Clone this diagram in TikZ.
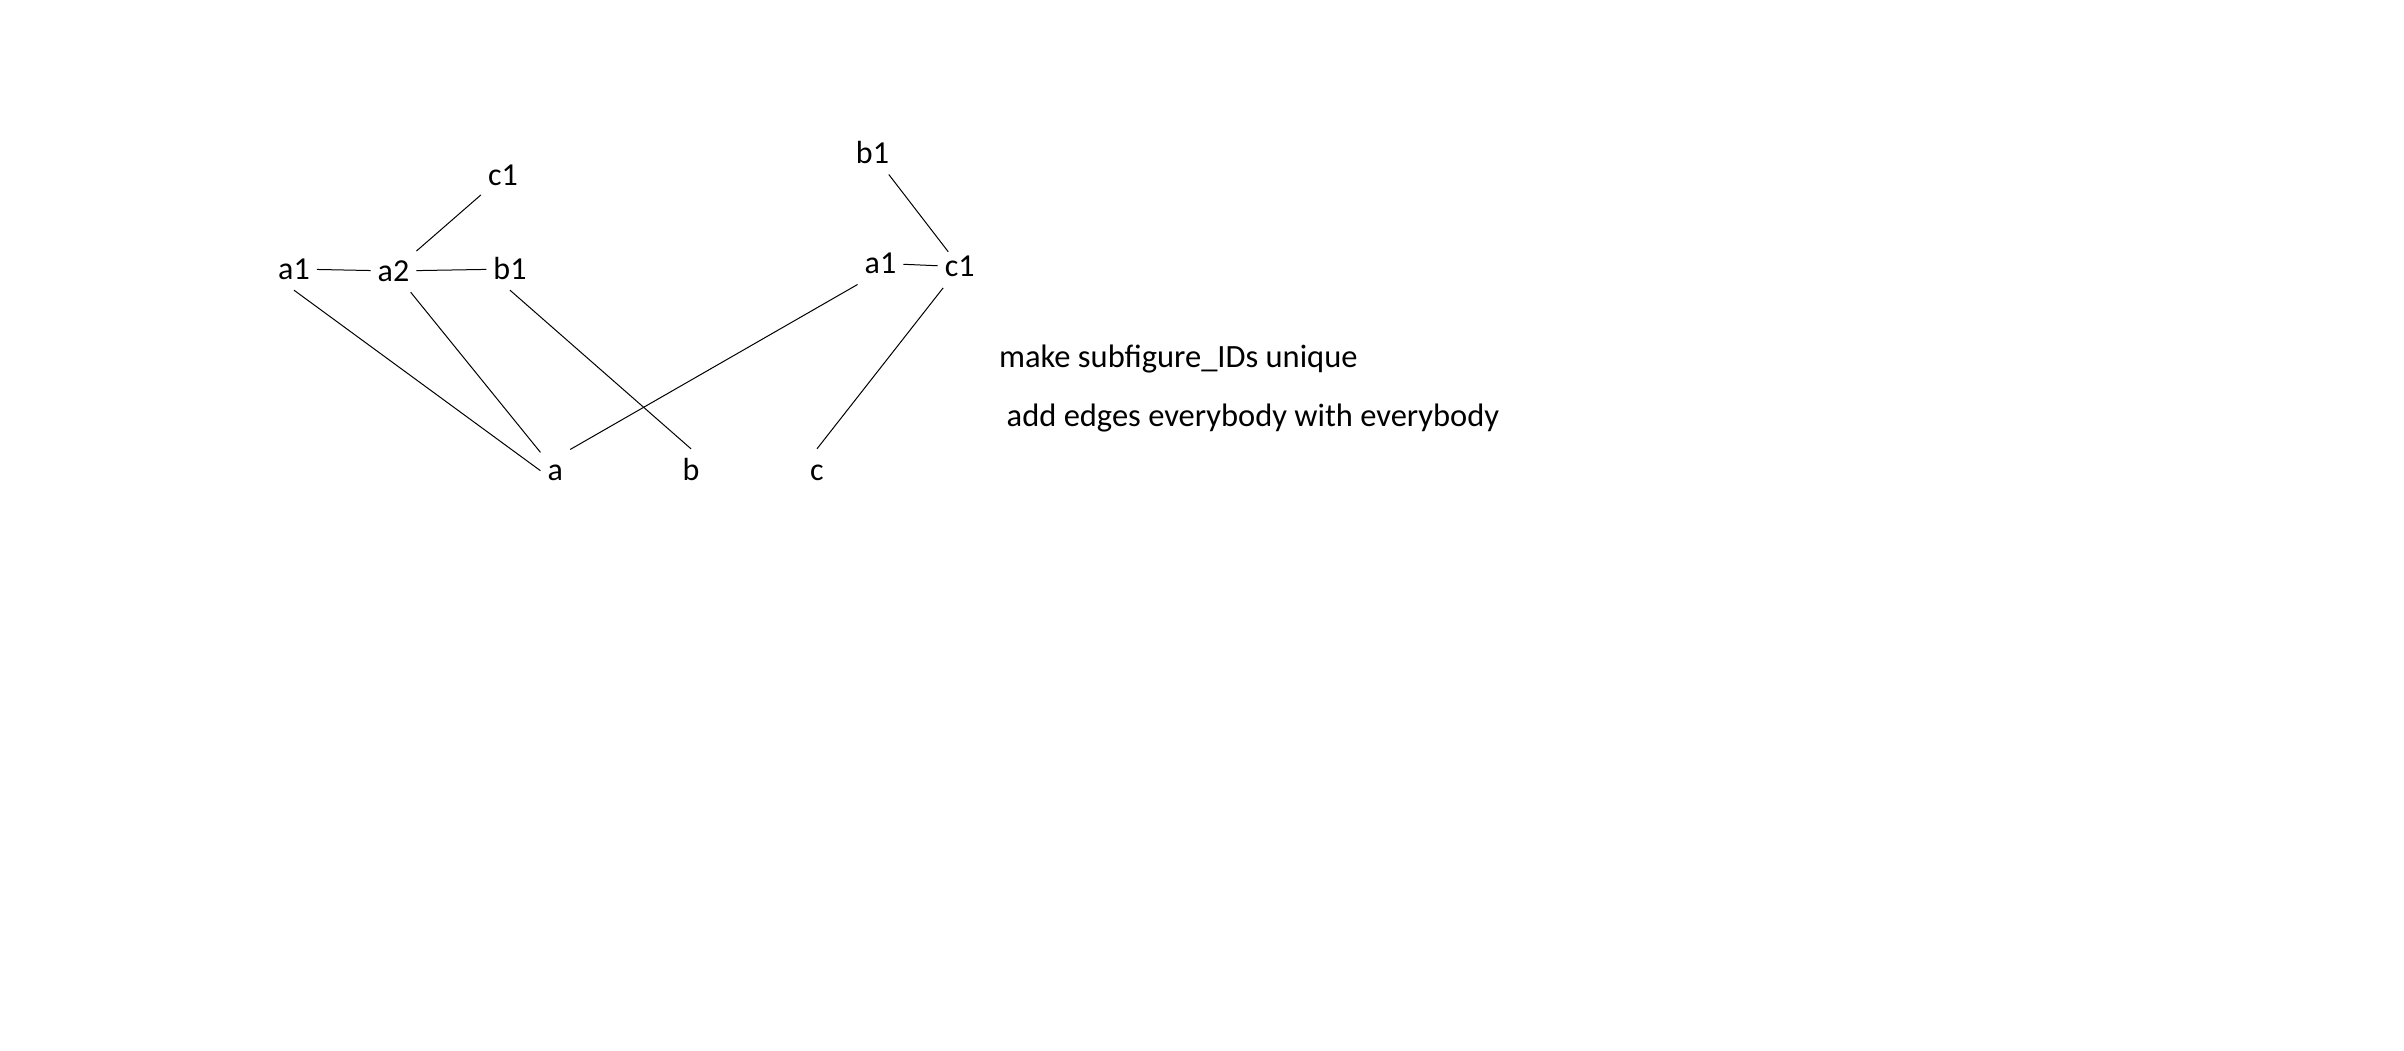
\documentclass[tikz,border=0pt]{standalone}
\usepackage{fontspec}
\setmainfont{Carlito}
\begin{document}
\begin{tikzpicture}[x=1pt,y=-1pt,
  lbl/.style={font=\fontsize{32}{38}\selectfont, anchor=base, text height=20pt, text depth=0pt, inner xsep=7pt, inner ysep=11pt},
  note/.style={font=\fontsize{32.5}{38}\selectfont, anchor=base west, inner sep=0pt},
  edge/.style={draw=black, line width=1pt}]
\useasboundingbox[fill=white] (0,0) rectangle (2404,1051);
% left subfigure
\node[lbl] (a1L) at (294,279) {a1};
\node[lbl] (a2)  at (393.5,281) {a2};
\node[lbl] (b1L) at (510,279) {b1};
\node[lbl] (c1L) at (503,185.7) {c1};
% bottom
\node[lbl] (a) at (555.3,480.7) {a};
\node[lbl] (b) at (691,480) {b};
\node[lbl] (c) at (817,480) {c};
% right subfigure
\node[lbl] (b1R) at (872.5,163.3) {b1};
\node[lbl] (a1R) at (880.5,273.3) {a1};
\node[lbl] (c1R) at (959.7,276.7) {c1};
% notes
\node[note] (t1) at (999,367.3) {make subfigure\_IDs unique};
\node[note] (t2) at (1006.5,426.7) {add edges everybody with everybody};
% connectors
\draw[edge] (a1L) -- (a2);
\draw[edge] (a2) -- (b1L);
\draw[edge] (a2) -- (c1L);
\draw[edge] (a1L.south) -- (a.west);
\draw[edge] (a2) -- (a);
\draw[edge] (b1L.south) -- (b.north);
\draw[edge] (a1R.south west) -- (a.north east);
\draw[edge] (a1R) -- (c1R);
\draw[edge, shorten >=-8pt] (b1R) -- (c1R);
\draw[edge] (c1R) -- (c.north);
\end{tikzpicture}
\end{document}
